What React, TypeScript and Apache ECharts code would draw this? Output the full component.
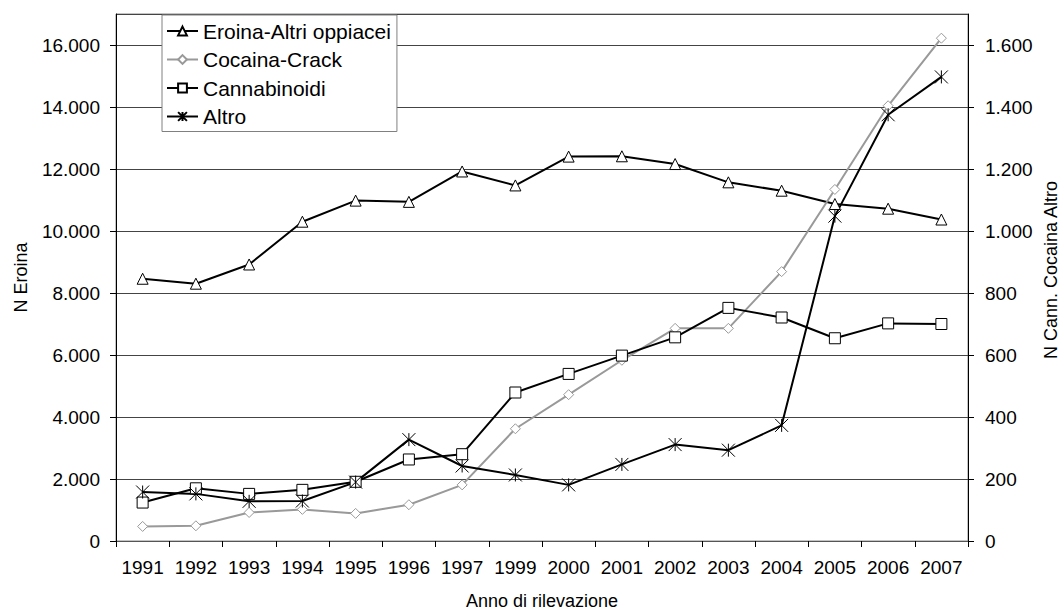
import React, { useEffect, useRef } from "react";
import * as echarts from "echarts";

const years = ["1991", "1992", "1993", "1994", "1995", "1996", "1997", "1999", "2000", "2001", "2002", "2003", "2004", "2005", "2006", "2007"];
const eroina = [8460, 8300, 8920, 10300, 10980, 10940, 11920, 11470, 12400, 12410, 12160, 11570, 11300, 10870, 10720, 10370];
const cocaina = [47, 49, 92, 102, 89, 117, 181, 362, 472, 583, 686, 686, 869, 1134, 1404, 1622];
const cannabinoidi = [124, 170, 152, 165, 191, 263, 280, 479, 539, 598, 657, 752, 721, 654, 702, 700];
const altro = [158, 152, 128, 129, 190, 327, 242, 213, 181, 247, 311, 293, 373, 1048, 1375, 1497];

const seriesNames = ["Eroina-Altri oppiacei", "Cocaina-Crack", "Cannabinoidi", "Altro"];
const xName = "Anno di rilevazione";
const leftName = "N Eroina";
const rightName = "N Cann. Cocaina Altro";

const FONT = "'Liberation Sans', Arial, sans-serif";

const fmt = (v: number, max: number) => {
  if (v > max) return "";
  return String(v).replace(/\B(?=(\d{3})+(?!\d))/g, ".");
};

export default function App() {
  const ref = useRef<HTMLDivElement>(null);
  useEffect(() => {
    if (!ref.current) return;
    const chart = echarts.init(ref.current, null, { renderer: "svg" });
    const asterisk = "path://M0,0L10,10M0,10L10,0M5,0L5,10";
    chart.setOption({
      animation: false,
      backgroundColor: "#fff",
      textStyle: { fontFamily: FONT, color: "#000" },
      grid: {
        left: 116,
        right: 93,
        top: 14,
        bottom: 68,
        show: true,
        borderColor: "#888",
        borderWidth: 1,
        backgroundColor: "transparent",
      },
      legend: {
        orient: "vertical",
        left: 162,
        top: 15,
        padding: [5, 6, 4, 4],
        itemGap: 6.5,
        itemWidth: 31,
        itemHeight: 11,
        backgroundColor: "#fff",
        borderColor: "#808080",
        borderWidth: 1,
        borderRadius: 0,
        textStyle: { fontFamily: FONT, fontSize: 21, color: "#000", lineHeight: 22 },
        data: seriesNames,
      },
      graphic: [
        {
          type: "text",
          x: 1051,
          y: 270,
          rotation: Math.PI / 2,
          style: {
            text: rightName,
            fontFamily: FONT,
            fontSize: 18,
            fill: "#000",
            align: "center",
            verticalAlign: "middle",
          },
        },
      ],
      xAxis: {
        type: "category",
        data: years,
        boundaryGap: true,
        name: xName,
        nameLocation: "middle",
        nameGap: 51,
        nameTextStyle: { fontFamily: FONT, fontSize: 18, color: "#000" },
        axisLine: { lineStyle: { color: "#555", width: 1 } },
        axisTick: { show: true, length: 6, inside: false, lineStyle: { color: "#000" } },
        axisLabel: { fontFamily: FONT, fontSize: 19, color: "#000", margin: 17, interval: 0 },
      },
      yAxis: [
        {
          type: "value",
          min: 0,
          max: 17000,
          interval: 2000,
          position: "left",
          name: leftName,
          nameLocation: "middle",
          nameGap: 86,
          nameTextStyle: { fontFamily: FONT, fontSize: 18, color: "#000" },
          axisLine: { show: true, lineStyle: { color: "#000", width: 1 } },
          axisTick: { show: true, length: 6, lineStyle: { color: "#000" } },
          axisLabel: {
            fontFamily: FONT,
            fontSize: 19,
            color: "#000",
            margin: 16,
            showMaxLabel: false,
            formatter: (v: number) => fmt(v, 16000),
          },
          splitLine: { show: true, lineStyle: { color: "#444", width: 1 } },
        },
        {
          type: "value",
          min: 0,
          max: 1700,
          interval: 200,
          position: "right",
          axisLine: { show: true, lineStyle: { color: "#000", width: 1 } },
          axisTick: { show: true, length: 6, lineStyle: { color: "#000" } },
          axisLabel: {
            fontFamily: FONT,
            fontSize: 19,
            color: "#000",
            margin: 17,
            showMaxLabel: false,
            formatter: (v: number) => fmt(v, 1600),
          },
          splitLine: { show: false },
        },
      ],
      series: [
        {
          name: seriesNames[0],
          type: "line",
          yAxisIndex: 0,
          data: eroina,
          symbol: "triangle",
          symbolSize: 11,
          showAllSymbol: true,
          lineStyle: { color: "#000", width: 2 },
          itemStyle: { color: "#fff", borderColor: "#000", borderWidth: 1 },
          emphasis: { disabled: true },
        },
        {
          name: seriesNames[1],
          type: "line",
          yAxisIndex: 1,
          data: cocaina,
          symbol: "diamond",
          symbolSize: 10,
          showAllSymbol: true,
          lineStyle: { color: "#999", width: 2 },
          itemStyle: { color: "#fff", borderColor: "#999", borderWidth: 1 },
          emphasis: { disabled: true },
        },
        {
          name: seriesNames[2],
          type: "line",
          yAxisIndex: 1,
          data: cannabinoidi,
          symbol: "rect",
          symbolSize: 11,
          showAllSymbol: true,
          lineStyle: { color: "#000", width: 2 },
          itemStyle: { color: "#fff", borderColor: "#000", borderWidth: 1 },
          emphasis: { disabled: true },
        },
        {
          name: seriesNames[3],
          type: "line",
          yAxisIndex: 1,
          data: altro,
          symbol: asterisk,
          symbolSize: 13,
          showAllSymbol: true,
          lineStyle: { color: "#000", width: 2 },
          itemStyle: { color: "#000", borderColor: "#000", borderWidth: 1 },
          emphasis: { disabled: true },
        },
      ],
    });
    return () => chart.dispose();
  }, []);
  return (
    <div
      ref={ref}
      style={{ position: "absolute", left: 0, top: 0, width: 1061, height: 615, background: "#fff" }}
    />
  );
}
